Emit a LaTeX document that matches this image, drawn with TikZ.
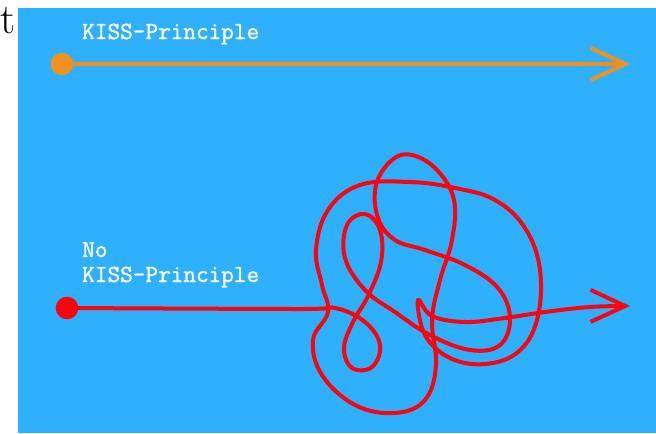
\documentclass[tikz,border=0pt]{standalone}
\usepackage{fontspec}
\newfontfamily\kissfont[FakeBold=1.4]{Latin Modern Mono}
\usetikzlibrary{arrows.meta}
\definecolor{skyblue}{RGB}{46,176,252}
\definecolor{kissorange}{RGB}{240,144,30}
\definecolor{messred}{RGB}{250,5,15}
\tikzset{
  dot/.style={circle, inner sep=0pt, minimum size=17pt},
  caption/.style={text=white, font=\kissfont\fontsize{18.4}{22}\selectfont, inner sep=0pt, anchor=base west},
  wire/.style={line width=3pt, line cap=round, line join=round}
}
\begin{document}
\begin{tikzpicture}[x=0.75pt, y=-0.75pt, >={Straight Barb[length=26pt, width=24pt, line width=3pt]}]
    \useasboundingbox (0,0) rectangle (656,433);
    \fill[skyblue] (18,8) rectangle (656,433);
    \node[anchor=base west, inner sep=0pt, font=\fontsize{32}{38}\selectfont] (t) at (0,33) {t};

    % KISS
    \node[caption] (kiss) at (82,39) {KISS-Principle};
    \node[dot, fill=kissorange] (kissdot) at (62,64) {};
    \coordinate (kissend) at (630,64);
    \draw[wire, ->, draw=kissorange] (kissdot.center) -- (kissend);

    % no KISS
    \node[caption] (no) at (82,257) {No};
    \node[caption] (nokiss) at (82,282) {KISS-Principle};
    \node[dot, fill=messred] (nokissdot) at (67,308) {};
    \coordinate (nokissend) at (630,306);
    \draw[wire, ->, draw=messred] plot[smooth, tension=0.65] coordinates {
      (nokissdot.center) (300,309) (335,308) (365,322) (380,345) (372,367)
      (352,368) (344,348) (353,322) (368,296) (381,262) (380,230) (365,214)
      (347,225) (345,258) (365,290) (395,312) (430,335) (470,350) (500,345)
      (510,318) (498,288) (465,265) (425,250) (395,240) (378,218) (376,185)
      (392,160) (412,155) (437,170) (454,200) (452,240) (440,280) (432,320)
      (436,365) (425,400) (395,413) (355,405) (322,375) (313,340) (328,312)
      (322,285) (316,250) (328,210) (360,185) (410,182) (455,188) (495,200)
      (525,228) (540,270) (537,320) (518,352) (485,364) (450,358) (425,335)
      (418,300) (432,316) (465,322) (505,318) (545,312) (590,307) (nokissend)};
\end{tikzpicture}
\end{document}
